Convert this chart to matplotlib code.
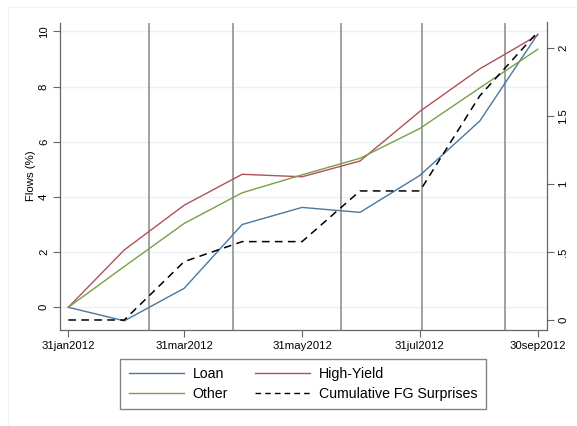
import datetime as dt
import matplotlib
matplotlib.use("Agg")
import matplotlib.pyplot as plt
from matplotlib.lines import Line2D
from matplotlib.patches import Rectangle

plt.rcParams['font.family'] = ['Liberation Sans', 'DejaVu Sans']

dates = ["2012-01-31", "2012-02-29", "2012-03-31", "2012-04-30", "2012-05-31",
         "2012-06-30", "2012-07-31", "2012-08-31", "2012-09-30"]
loan = [0, -0.49, 0.69, 3.0, 3.62, 3.44, 4.78, 6.75, 9.9]
high_yield = [0, 2.08, 3.7, 4.82, 4.73, 5.3, 7.1, 8.64, 9.86]
other = [0, 1.48, 3.04, 4.15, 4.8, 5.4, 6.48, 7.95, 9.35]
fg_surprises = [0, 0, 0.43, 0.577, 0.577, 0.95, 0.95, 1.65, 2.12]
fomc_dates = ["2012-03-13", "2012-04-25", "2012-06-20", "2012-08-01", "2012-09-13"]
xtick_dates = ["2012-01-31", "2012-03-31", "2012-05-31", "2012-07-31", "2012-09-30"]
left_ticks = [0, 2, 4, 6, 8, 10]
right_ticks = [0, 0.5, 1, 1.5, 2]
right_labels = ["0", ".5", "1", "1.5", "2"]

def d(s):
    return dt.datetime.strptime(s, "%Y-%m-%d")

x = [d(s) for s in dates]

fig = plt.figure(figsize=(5.77, 4.26), dpi=100)
fig.patch.set_facecolor('white')
fig.add_artist(Rectangle((8/577, -0.05), 1.0, 1-7/426 + 0.05, transform=fig.transFigure,
                         fill=False, edgecolor='#eef2f3', lw=0.8))
ax = fig.add_axes([60/577, 1-329.5/426, 487/577, 307/426])
ax2 = ax.twinx()

c_loan = '#4a77a0'
c_hy = '#b0505a'
c_other = '#78a048'
lw = 1.0

for yv in left_ticks:
    ax.axhline(yv, color='#eaf2f3', lw=1.0, zorder=0)
for fd in fomc_dates:
    ax.axvline(d(fd), color='#9a9a9a', lw=1.3, zorder=1)

ax.plot(x, loan, color=c_loan, lw=lw, zorder=3)
ax.plot(x, high_yield, color=c_hy, lw=lw, zorder=3)
ax.plot(x, other, color=c_other, lw=lw, zorder=3)
ax2.plot(x, fg_surprises, color='black', lw=1.1, dashes=(5, 3.5))

ax.set_xlim(d("2012-01-31") - dt.timedelta(days=4.3), d("2012-09-30") + dt.timedelta(days=4.8))
ax.set_ylim(-0.804, 10.32)
ax2.set_ylim(-0.07, 2.19)

xt = [d(s) for s in xtick_dates]
ax.set_xticks(xt)
ax.set_xticklabels([t.strftime("%d%b%Y").lower() for t in xt])
ax.set_yticks(left_ticks)
ax.set_yticklabels([str(v) for v in left_ticks], rotation=90, va='center')
ax2.set_yticks(right_ticks)
ax2.set_yticklabels(right_labels, rotation=90, va='center')

for a in (ax, ax2):
    a.spines['top'].set_visible(False)
    for s in a.spines.values():
        s.set_color('#666666')
        s.set_linewidth(0.9)
    a.tick_params(direction='out', length=5, width=0.8, color='#666666',
                  labelsize=8.2, pad=3)
ax.spines['right'].set_visible(False)
ax2.spines['left'].set_visible(False)
ax2.spines['bottom'].set_visible(False)
ax.set_facecolor('none')

ax.set_ylabel("Flows (%)", fontsize=8.2, labelpad=2)

handles = [Line2D([], [], color=c_loan, lw=1.0),
           Line2D([], [], color=c_other, lw=1.0),
           Line2D([], [], color=c_hy, lw=1.0),
           Line2D([], [], color='black', lw=1.0, dashes=(4, 3))]
labels = ["Loan", "Other", "High-Yield", "Cumulative FG Surprises"]
leg = fig.legend(handles, labels, ncol=2, loc='center', bbox_to_anchor=(303/577, 1-384/426),
                 fontsize=10.2, frameon=True, fancybox=False, handlelength=3.9,
                 handletextpad=0.6, columnspacing=1.9, labelspacing=0.4, borderpad=0.6,
                 borderaxespad=0)
leg.get_frame().set_edgecolor('#666666')
leg.get_frame().set_linewidth(1.0)

fig.savefig("out.png", dpi=100)
